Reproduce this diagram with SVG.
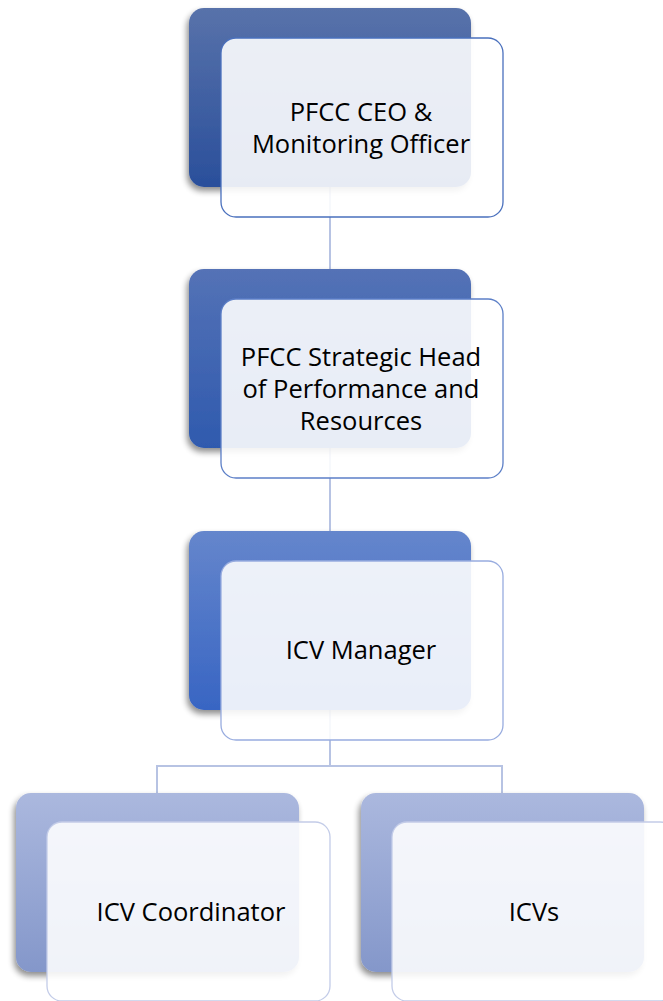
<svg xmlns="http://www.w3.org/2000/svg" width="663" height="1001" viewBox="0 0 663 1001">
<defs>
<linearGradient id="g1" x1="0" y1="0" x2="0" y2="1"><stop offset="0" stop-color="#5872aa"/><stop offset="1" stop-color="#2a4f9b"/></linearGradient>
<linearGradient id="g2" x1="0" y1="0" x2="0" y2="1"><stop offset="0" stop-color="#5472b6"/><stop offset="1" stop-color="#2f5aae"/></linearGradient>
<linearGradient id="g3" x1="0" y1="0" x2="0" y2="1"><stop offset="0" stop-color="#6586cc"/><stop offset="1" stop-color="#3865c3"/></linearGradient>
<linearGradient id="g4" x1="0" y1="0" x2="0" y2="1"><stop offset="0" stop-color="#abb8de"/><stop offset="1" stop-color="#8497ca"/></linearGradient>
<filter id="sh" x="-10%" y="-10%" width="125%" height="125%">
<feGaussianBlur in="SourceAlpha" stdDeviation="3"/>
<feOffset dx="-2" dy="4" result="b"/>
<feComponentTransfer><feFuncA type="linear" slope="0.45"/></feComponentTransfer>
<feMerge><feMergeNode/><feMergeNode in="SourceGraphic"/></feMerge>
</filter>
</defs>
<style>
.back{filter:url(#sh)}
.front{fill:#ffffff;fill-opacity:0.89;stroke-width:1.3}
.fb{fill:#ffffff;fill-opacity:0.88;stroke:#c3cce8;stroke-width:1.3}
.conn{fill:none;stroke:#b7c3e3;stroke-width:2}
text{font-family:"Open Sans","Liberation Sans",sans-serif;font-size:25.5px;fill:#000;text-anchor:middle}
</style>
<g id="connectors">
<line class="conn" x1="330" y1="185" x2="330" y2="270"/>
<line class="conn" x1="330" y1="446" x2="330" y2="532"/>
<path class="conn" d="M330 708 V766 M157 794 V766 H502 V794"/>
</g>
<g id="node-ceo">
<rect class="back" x="189" y="8" width="282" height="179" rx="15" fill="url(#g1)"/>
<rect class="front" x="221" y="38" width="282" height="179" rx="15" stroke="#4a70bd"/>
<text x="361" y="121">PFCC CEO &amp;</text>
<text x="361" y="153">Monitoring Officer</text>
</g>
<g id="node-strategic">
<rect class="back" x="189" y="269" width="282" height="179" rx="15" fill="url(#g2)"/>
<rect class="front" x="221" y="299" width="282" height="179" rx="15" stroke="#5c7fc7"/>
<text x="361" y="366">PFCC Strategic Head</text>
<text x="361" y="398">of Performance and</text>
<text x="361" y="430">Resources</text>
</g>
<g id="node-manager">
<rect class="back" x="189" y="531" width="282" height="179" rx="15" fill="url(#g3)"/>
<rect class="front" x="221" y="561" width="282" height="179" rx="15" stroke="#98acdf"/>
<text x="361" y="659">ICV Manager</text>
</g>
<g id="node-coordinator">
<rect class="back" x="16" y="793" width="283" height="179" rx="15" fill="url(#g4)"/>
<rect class="fb" x="47" y="822" width="283" height="179" rx="15"/>
<text x="191" y="921">ICV Coordinator</text>
</g>
<g id="node-icvs">
<rect class="back" x="361" y="793" width="283" height="179" rx="15" fill="url(#g4)"/>
<rect class="fb" x="392" y="822" width="283" height="179" rx="15"/>
<text x="534" y="921">ICVs</text>
</g>
</svg>
